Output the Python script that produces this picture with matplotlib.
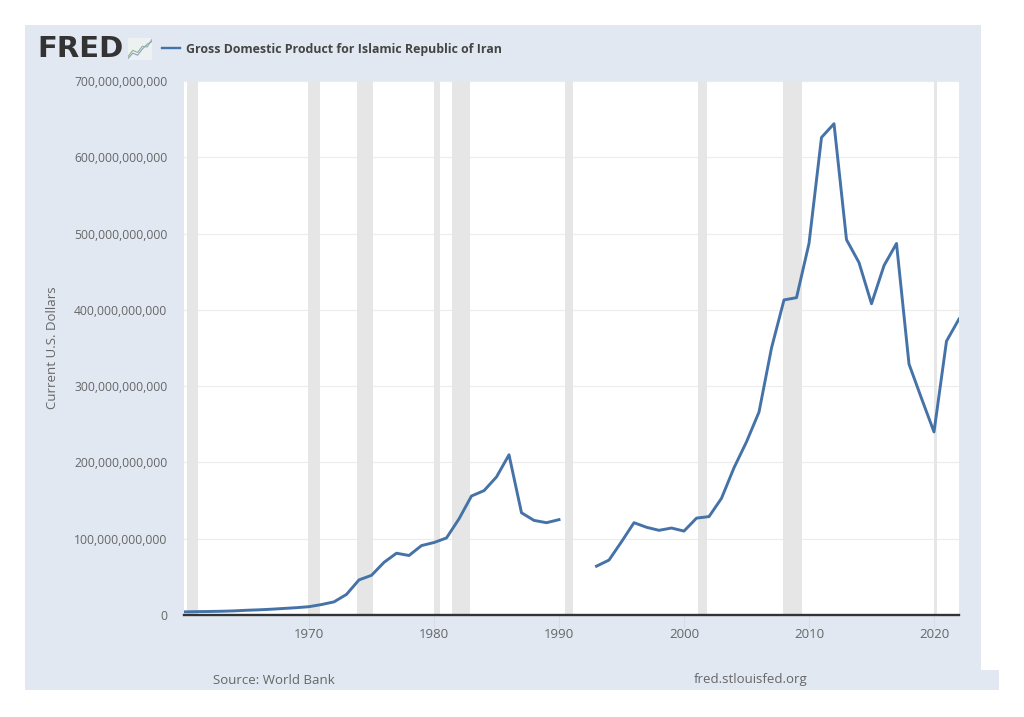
"""FRED chart: Gross Domestic Product for Islamic Republic of Iran."""

import matplotlib

matplotlib.use("Agg")
import matplotlib.pyplot as plt
import numpy as np
from matplotlib.patches import Rectangle

W, H = 1024, 717

# Values in billions of current US dollars, NaN where the series has no data.
years = list(range(1960, 2023))
gdp_billions = [
    4.1, 4.4, 4.6, 4.9, 5.4, 6.2, 6.8, 7.6, 8.6, 9.6,
    10.9, 13.7, 17.2, 27, 46, 52, 69, 81, 78, 91,
    95, 101, 126, 156, 163, 181, 210, 134, 124, 121,
    125, np.nan, np.nan, 64, 72, 96, 121, 115, 111, 114,
    110, 127, 129, 153, 193, 227, 266, 350, 413, 416,
    487, 626, 644, 492, 462, 408, 458, 487, 329, 284,
    240, 359, 388,
]
recession_start = [1960.25, 1969.9, 1973.85, 1980.0, 1981.45, 1990.5, 2001.15, 2007.9, 2020.0]
recession_end = [1961.1, 1970.85, 1975.1, 1980.45, 1982.85, 1991.15, 2001.85, 2009.45, 2020.25]
x_ticks = [1970, 1980, 1990, 2000, 2010, 2020]
y_ticks = [0, 100, 200, 300, 400, 500, 600, 700]

PANEL = "#e1e8f1"
LINE = "#4572a7"
TEXT = "#666666"

plt.rcParams["font.family"] = ["Open Sans", "DejaVu Sans"]


def px_rect(x0, y0, x1, y1):
    """Convert pixel box (top-left origin) to figure-fraction rect."""
    return [x0 / W, 1 - y1 / H, (x1 - x0) / W, (y1 - y0) / H]


fig = plt.figure(figsize=(W / 100, H / 100), dpi=100, facecolor="white")

# Background panel with its small extension at the bottom right.
for box in [(25, 25, 981, 690), (981, 670, 999, 690)]:
    x, y, w, h = px_rect(*box)
    fig.add_artist(Rectangle((x, y), w, h, transform=fig.transFigure, color=PANEL, lw=0, zorder=-1))

ax = fig.add_axes(px_rect(184, 81, 959, 615), facecolor="white")

for start, end in zip(recession_start, recession_end):
    ax.axvspan(start, end, color="#e6e6e6", lw=0, zorder=1)

ax.plot(years, gdp_billions, color=LINE, lw=2.1, zorder=3, solid_joinstyle="round", clip_on=True)

ax.set_xlim(1960, 2022)
ax.set_ylim(0, 700)
ax.set_xticks(x_ticks)
ax.set_xticklabels([str(t) for t in x_ticks])
ax.set_yticks(y_ticks)
ax.set_yticklabels([f"{t * 1000000000:,}" for t in y_ticks])
ax.grid(axis="y", color="#ececec", lw=0.8, zorder=0)
ax.set_axisbelow(True)
ax.tick_params(axis="x", length=9, width=0.7, color="#d5dce6", labelsize=9.5, labelcolor=TEXT, pad=0)
ax.tick_params(axis="y", length=0, labelsize=8.7, labelcolor=TEXT, pad=12)
for side in ["top", "right", "left"]:
    ax.spines[side].set_visible(False)
ax.spines["bottom"].set_color("#333333")
ax.spines["bottom"].set_linewidth(1.7)
ax.set_ylabel("Current U.S. Dollars", fontsize=9.5, color=TEXT)
ax.yaxis.set_label_coords((59 - 184) / (959 - 184), 0.5)

# Header: logo, legend key and series title.
fig.text(37 / W, 1 - 49 / H, "FRED", fontsize=21, fontweight="bold", color="#333333",
         family=["DejaVu Sans"], va="center", ha="left")

icon = fig.add_axes(px_rect(128, 38, 152, 60), facecolor="#eef1f1")
icon.plot([0, 1, 2, 3, 4, 5], [0.5, 1.4, 1.1, 2.0, 1.9, 3.0], color="#8fb58f", lw=0.8)
icon.plot([0, 1, 2, 3, 4, 5], [0.2, 1.0, 0.7, 1.6, 2.3, 2.7], color="#8aa4c4", lw=0.8)
icon.set_xlim(0, 5)
icon.set_ylim(0, 3.2)
icon.set_xticks([])
icon.set_yticks([])
for spine in icon.spines.values():
    spine.set_visible(False)

fig.add_artist(plt.Line2D([162 / W, 180 / W], [1 - 48 / H] * 2, color=LINE, lw=1.7, transform=fig.transFigure))
fig.text(186 / W, 1 - 49 / H, "Gross Domestic Product for Islamic Republic of Iran",
         fontsize=8.9, fontweight="bold", color="#444444", va="center", ha="left")

# Footer.
fig.text(213 / W, 1 - 680 / H, "Source: World Bank", fontsize=9.5, color=TEXT, va="center", ha="left")
fig.text(694 / W, 1 - 680 / H, "fred.stlouisfed.org", fontsize=9.5, color=TEXT, va="center", ha="left")

fig.savefig("out.png", dpi=100)
plt.close(fig)
